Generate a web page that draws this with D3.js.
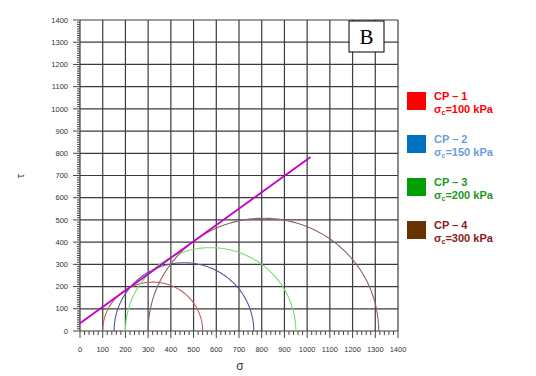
<!DOCTYPE html>
<head>
  <meta charset="utf-8">
  <script src="https://d3js.org/d3.v7.min.js"></script>
  <style>
    body { margin: 0; background: #fff; }
    .tick-label { font-family: "Liberation Sans", Arial, sans-serif; font-size: 7.5px; fill: #333; }
    .legend-text { font-family: "Liberation Sans", Arial, sans-serif; font-size: 11px; font-weight: bold; }
  </style>
</head>
<body>
<script>
  // Mohr circles: minor and major principal stress for each test
  var specimens = ["CP – 1", "CP – 2", "CP – 3", "CP – 4"];
  var confining = [100, 150, 200, 300];
  var sigma3 = [100, 150, 200, 300];
  var sigma1 = [540, 765, 950, 1315];
  var circleColors = ["#c06060", "#5555aa", "#78dc78", "#906262"];
  var squareColors = ["#ff0000", "#0070c0", "#00a000", "#663300"];
  var textColors = ["#ff0000", "#6a9fdc", "#1a9a1a", "#8b1a1a"];

  // failure envelope end points (sigma, tau)
  var envelopeSigma = [0, 1015];
  var envelopeTau = [35, 783];

  var axisTicks = d3.range(0, 1401, 100);

  var outerWidth = 536, outerHeight = 376;
  var margin = { top: 20, left: 80, right: 138, bottom: 45 };

  var xScale = d3.scaleLinear().domain([0, 1400]).range([margin.left, outerWidth - margin.right]);
  var yScale = d3.scaleLinear().domain([0, 1400]).range([outerHeight - margin.bottom, margin.top]);

  var svg = d3.select("body").append("svg")
    .attr("width", outerWidth)
    .attr("height", outerHeight);

  var x0 = xScale(0), x1 = xScale(1400), y0 = yScale(0), y1 = yScale(1400);

  // grid
  svg.append("g").selectAll("line.v").data(axisTicks).enter().append("line")
    .attr("x1", d => xScale(d)).attr("x2", d => xScale(d))
    .attr("y1", y0).attr("y2", y1)
    .attr("stroke", "#3c3c3c").attr("stroke-width", 1.2);
  svg.append("g").selectAll("line.h").data(axisTicks).enter().append("line")
    .attr("x1", x0).attr("x2", x1)
    .attr("y1", d => yScale(d)).attr("y2", d => yScale(d))
    .attr("stroke", "#3c3c3c").attr("stroke-width", 1.2);

  // minor ticks
  svg.append("g").selectAll("line").data(d3.range(0, 1401, 10)).enter().append("line")
    .attr("x1", d => d % 100 === 0 ? x0 - 7 : x0 - 3).attr("x2", x0)
    .attr("y1", d => yScale(d)).attr("y2", d => yScale(d))
    .attr("stroke", "#444").attr("stroke-width", 1);
  svg.append("g").selectAll("line").data(d3.range(0, 1401, 20)).enter().append("line")
    .attr("x1", d => xScale(d)).attr("x2", d => xScale(d))
    .attr("y1", y0).attr("y2", d => d % 100 === 0 ? y0 + 7 : y0 + 4)
    .attr("stroke", "#444").attr("stroke-width", 1);

  // tick labels
  svg.append("g").selectAll("text").data(axisTicks).enter().append("text")
    .attr("class", "tick-label")
    .attr("x", x0 - 12).attr("y", d => yScale(d) + 2.7)
    .attr("text-anchor", "end")
    .text(d => d);
  svg.append("g").selectAll("text").data(axisTicks).enter().append("text")
    .attr("class", "tick-label")
    .attr("x", d => xScale(d)).attr("y", y0 + 21)
    .attr("text-anchor", "middle")
    .text(d => d);

  // axis titles
  svg.append("text")
    .attr("transform", "translate(24,176) rotate(-90)")
    .attr("text-anchor", "middle")
    .attr("font-family", "Liberation Sans, Arial, sans-serif")
    .attr("font-size", 11).attr("fill", "#333")
    .text("τ");
  svg.append("text")
    .attr("x", 240).attr("y", 370)
    .attr("text-anchor", "middle")
    .attr("font-family", "Liberation Sans, Arial, sans-serif")
    .attr("font-size", 12).attr("fill", "#333")
    .text("σ");

  // Mohr circles
  var line = d3.line().x(d => xScale(d[0])).y(d => yScale(d[1]));
  sigma3.forEach(function(s3, i) {
    var c = (s3 + sigma1[i]) / 2, r = (sigma1[i] - s3) / 2;
    var pts = d3.range(0, 181, 1).map(a => [c - r * Math.cos(a * Math.PI / 180), r * Math.sin(a * Math.PI / 180)]);
    svg.append("path")
      .attr("d", line(pts))
      .attr("fill", "none")
      .attr("stroke", circleColors[i])
      .attr("stroke-width", 1.1);
  });

  // failure envelope
  svg.append("line")
    .attr("x1", xScale(envelopeSigma[0])).attr("y1", yScale(envelopeTau[0]))
    .attr("x2", xScale(envelopeSigma[1])).attr("y2", yScale(envelopeTau[1]))
    .attr("stroke", "#c400c4").attr("stroke-width", 1.8);

  // panel letter
  svg.append("rect")
    .attr("x", 349).attr("y", 21).attr("width", 35).attr("height", 31)
    .attr("fill", "#fff").attr("stroke", "#000").attr("stroke-width", 1);
  svg.append("text")
    .attr("x", 366.5).attr("y", 44)
    .attr("text-anchor", "middle")
    .attr("font-family", "Liberation Serif, Times New Roman, serif")
    .attr("font-size", 21)
    .text("B");

  // legend
  specimens.forEach(function(name, i) {
    var ty = 92 + i * 43;
    svg.append("rect")
      .attr("x", 407).attr("y", ty).attr("width", 19).attr("height", 18)
      .attr("fill", squareColors[i]);
    svg.append("text")
      .attr("class", "legend-text")
      .attr("x", 434).attr("y", ty + 7.5)
      .attr("fill", textColors[i])
      .text(name);
    var t2 = svg.append("text")
      .attr("class", "legend-text")
      .attr("x", 434).attr("y", ty + 21)
      .attr("fill", textColors[i]);
    t2.append("tspan").text("σ");
    t2.append("tspan").attr("font-size", 7).attr("dy", 2).text("c");
    t2.append("tspan").attr("dy", -2).text("=" + confining[i] + " kPa");
  });
</script>
</body>
